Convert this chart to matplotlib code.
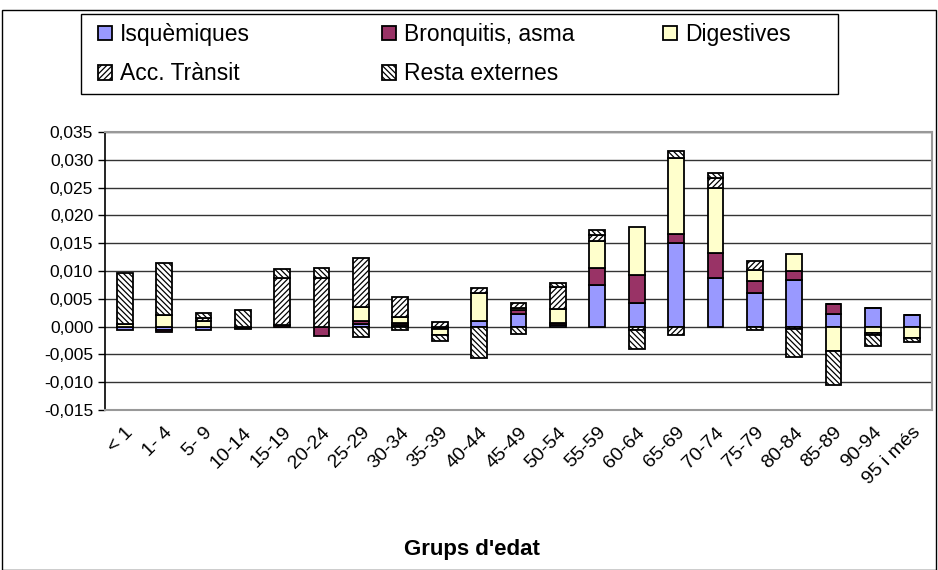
import numpy as np
import matplotlib
matplotlib.use('Agg')
import matplotlib.pyplot as plt
from matplotlib.ticker import FuncFormatter, MultipleLocator
from matplotlib.patches import Rectangle

plt.rcParams['font.family'] = ['Liberation Sans', 'DejaVu Sans']
plt.rcParams['hatch.linewidth'] = 0.9

# age groups
labels = ['< 1', '1- 4', '5- 9', '10-14', '15-19', '20-24', '25-29', '30-34',
          '35-39', '40-44', '45-49', '50-54', '55-59', '60-64', '65-69',
          '70-74', '75-79', '80-84', '85-89', '90-94', '95 i més']

# contributions per cause
isquemiques = [-0.0007, -0.0006, -0.0006, -0.0002, 0.0, 0.0, 0.0004, 0.0002,
               0.0, 0.0010, 0.0022, 0.0002, 0.0075, 0.0042, 0.0151,
               0.0087, 0.0060, 0.0084, 0.0022, 0.0033, 0.0021]
bronquitis = [0.0, -0.0003, 0.0, -0.0003, 0.0002, -0.0017, 0.0006, 0.0004,
              -0.0005, 0.0, 0.0007, 0.0005, 0.0031, 0.0051, 0.0015,
              0.0046, 0.0022, 0.0016, 0.0018, 0.0, 0.0]
digestives = [0.0004, 0.0021, 0.0010, 0.0, 0.0, 0.0, 0.0026, 0.0012,
              -0.0011, 0.0050, 0.0005, 0.0024, 0.0048, 0.0087, 0.0138,
              0.0116, 0.0020, 0.0030, -0.0044, -0.0012, -0.0021]
acc_transit = [0.0, 0.0, 0.0005, 0.0, 0.0085, 0.0087, 0.0088, 0.0036,
               0.0008, 0.0010, 0.0008, 0.0041, 0.0011, -0.0007, -0.0015,
               0.0018, 0.0016, -0.0004, 0.0, -0.0003, 0.0]
resta_externes = [0.0093, 0.0094, 0.0009, 0.0030, 0.0016, 0.0019, -0.0019, -0.0006,
                  -0.0010, -0.0056, -0.0013, 0.0006, 0.0009, -0.0034, 0.0012,
                  0.0010, -0.0007, -0.0051, -0.0061, -0.0020, -0.0007]

series = [
    ('Isquèmiques', isquemiques, '#9999FF', None),
    ('Bronquitis, asma', bronquitis, '#993366', None),
    ('Digestives', digestives, '#FFFFCC', None),
    ('Acc. Trànsit', acc_transit, 'white', '//////'),
    ('Resta externes', resta_externes, 'white', '\\\\\\\\\\\\'),
]

W, H = 938, 570
fig = plt.figure(figsize=(W / 100, H / 100), dpi=100)
ax = fig.add_axes([105 / W, 160 / H, 827 / W, 278 / H])

x = np.arange(len(labels))
pos_bottom = np.zeros(len(labels))
neg_bottom = np.zeros(len(labels))
handles = []
for name, vals, color, hatch in series:
    v = np.array(vals)
    bottoms = np.where(v >= 0, pos_bottom, neg_bottom)
    bars = ax.bar(x, v, width=0.4, bottom=bottoms, color=color, hatch=hatch,
                  edgecolor='black', linewidth=1.3, label=name, zorder=3)
    handles.append(bars)
    pos_bottom += np.where(v > 0, v, 0)
    neg_bottom += np.where(v < 0, v, 0)

ax.set_ylim(-0.015, 0.035)
ax.set_xlim(-0.5, len(labels) - 0.5)
ax.yaxis.set_major_locator(MultipleLocator(0.005))
ax.yaxis.set_major_formatter(FuncFormatter(lambda v, p: f'{v:.3f}'.replace('.', ',')))
ax.yaxis.grid(True, color='#333333', linewidth=1.0, zorder=0)
ax.set_axisbelow(True)

ax.set_xticks(x)
ax.set_xticklabels(labels, rotation=45, ha='right', rotation_mode='anchor', fontsize=14)
ax.tick_params(axis='x', length=0, pad=10)
ax.tick_params(axis='y', labelsize=12.5, length=5, width=1, direction='out')

for side in ['top', 'right', 'bottom']:
    ax.spines[side].set_color('#999999')
    ax.spines[side].set_linewidth(1.5)
ax.spines['left'].set_color('black')
ax.spines['left'].set_linewidth(1.2)

fig.text(472 / W, 1 - 549 / H, "Grups d'edat", fontsize=16, fontweight='bold',
         ha='center', va='center')

# legend: frame drawn separately, one legend per column
fig.patches.append(Rectangle((81 / W, 1 - 94 / H), 757 / W, 80 / H, transform=fig.transFigure,
                             fill=False, edgecolor='black', linewidth=1.0))
columns = [([0, 3], 98), ([1, 4], 382), ([2], 663)]
for idx, xpos in columns:
    lg = fig.legend([handles[i] for i in idx], [series[i][0] for i in idx],
                    loc='upper left', bbox_to_anchor=(xpos / W, 1 - 23 / H),
                    fontsize=16.5, frameon=False, borderpad=0, borderaxespad=0,
                    handlelength=0.6, handleheight=0.6, handletextpad=0.35,
                    labelspacing=0.72)

# outer chart border
fig.patches.append(Rectangle((2 / W, 0), 934 / W, 1 - 10 / H, transform=fig.transFigure,
                             fill=False, edgecolor='black', linewidth=1.0))

fig.savefig('out.png', dpi=100)
